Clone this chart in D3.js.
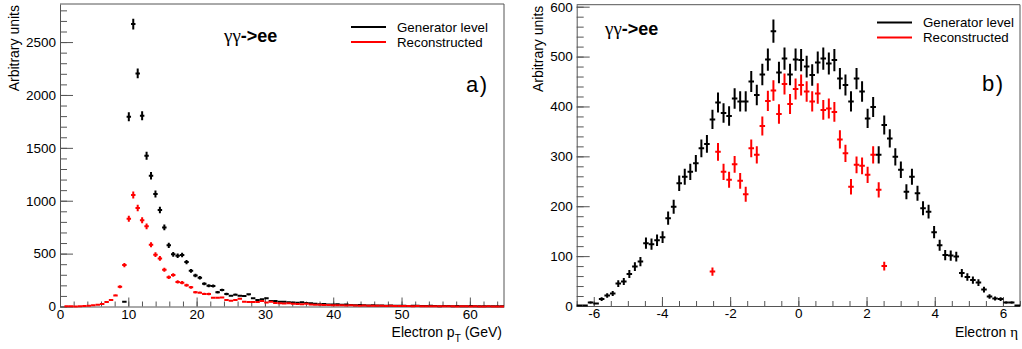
<!DOCTYPE html>
<html>
<head>
<meta charset="utf-8">
<script src="https://cdn.jsdelivr.net/npm/d3@7"></script>
<style>
  body { margin: 0; background: #fff; }
  svg { display: block; }
  text { font-family: "Liberation Sans", Arial, Helvetica, sans-serif; fill: #000; }
</style>
</head>
<body>
<svg id="chart" width="1022" height="349"></svg>
<script>
// electron pT histogram, 100 bins from 0 to 65 GeV
const ptRange = [0, 65];
const ptGen = [
  0, 0, 0, 0, 0, 0, 0, 0, 0, 0,
  0, 0, 0, 0, 45, 1794, 2670, 2204, 1803, 1425,
  1236, 1063, 912, 748, 578, 493, 480, 487, 420, 337,
  293, 272, 215, 197, 194, 134, 156, 118, 102, 112,
  102, 99, 115, 77, 61, 68, 77, 52, 52, 46,
  46, 40, 38, 36, 40, 32, 30, 26, 22, 24,
  20, 18, 22, 16, 18, 14, 12, 15, 11, 10,
  13, 9, 10, 8, 9, 7, 6, 8, 5, 6,
  7, 4, 5, 6, 4, 3, 5, 4, 3, 4,
  2, 3, 4, 2, 3, 2, 3, 2, 2, 3
];
const ptReco = [
  0, 2, 2, 1, 3, 5, 7, 11, 16, 24,
  42, 61, 105, 187, 392, 830, 1054, 931, 815, 758,
  584, 490, 455, 348, 276, 298, 232, 225, 202, 181,
  134, 131, 119, 118, 83, 83, 86, 61, 55, 61,
  74, 46, 43, 43, 43, 52, 39, 46, 32, 30,
  28, 31, 26, 24, 22, 25, 19, 16, 17, 14,
  15, 12, 13, 11, 10, 12, 9, 8, 10, 7,
  8, 6, 7, 5, 6, 5, 4, 5, 4, 3,
  4, 3, 3, 2, 3, 2, 2, 3, 2, 1,
  2, 2, 1, 2, 1, 1, 2, 1, 1, 1
];
const ptTicks = [0, 10, 20, 30, 40, 50, 60];
const ptCountTicks = [0, 500, 1000, 1500, 2000, 2500];

// electron eta histogram, 80 bins from -6.5 to 6.5
const etaRange = [-6.5, 6.5];
const etaGen = [
  1, 1, 7, 5, 14, 21, 25, 45, 49, 64,
  79, 89, 126, 124, 132, 138, 176, 199, 246, 259,
  269, 286, 316, 325, 374, 408, 387, 381, 416, 410,
  410, 450, 423, 464, 494, 551, 468, 496, 464, 494,
  493, 480, 463, 488, 496, 486, 493, 456, 443, 410,
  456, 430, 376, 399, 303, 363, 336, 299, 273, 229,
  259, 226, 196, 189, 148, 122, 102, 101, 99, 66,
  58, 52, 47, 33, 19, 15, 14, 7, 7, 1
];
const etaReco = [
  0, 0, 0, 0, 0, 0, 0, 0, 0, 0,
  0, 0, 0, 0, 0, 0, 0, 0, 0, 0,
  0, 0, 0, 0, 69, 309, 269, 253, 284, 251,
  224, 316, 303, 361, 411, 432, 385, 445, 405, 435,
  443, 430, 410, 426, 393, 396, 389, 334, 306, 239,
  283, 281, 263, 303, 233, 80, 0, 0, 0, 0,
  0, 0, 0, 0, 0, 0, 0, 0, 0, 0,
  0, 0, 0, 0, 0, 0, 0, 0, 0, 0
];
const etaTicks = [-6, -4, -2, 0, 2, 4, 6];
const etaCountTicks = [0, 100, 200, 300, 400, 500, 600];

const legendNames = ['Generator level', 'Reconstructed'];
const colors = ['#000000', '#ff0000'];

const svg = d3.select('#chart');
const axisColor = '#555';
// plain labels: no thousands separator, ascii hyphen for minus
const plain = d => String(d);

function drawHist(g, x, y, range, values, color) {
  const w = (range[1] - range[0]) / values.length;
  const bins = values
    .map((v, i) => ({ lo: range[0] + i * w, hi: range[0] + (i + 1) * w, v: v }))
    .filter(d => d.v > 0);
  g.selectAll(null).data(bins).enter().append('path')
    .attr('d', d => {
      const e = Math.sqrt(d.v);
      const xc = (x(d.lo) + x(d.hi)) / 2;
      return 'M' + x(d.lo) + ',' + y(d.v) + 'H' + x(d.hi) +
        'M' + xc + ',' + y(d.v + e) + 'V' + y(Math.max(0, d.v - e));
    })
    .attr('stroke', color)
    .attr('stroke-width', 2)
    .attr('fill', 'none');
}

function drawPanel(p) {
  const x = d3.scaleLinear().domain(p.xDomain).range([p.left, p.right]);
  const y = d3.scaleLinear().domain(p.yDomain).range([p.bottom, p.top]);
  const g = svg.append('g');

  // frame top / right
  g.append('path')
    .attr('d', 'M' + p.left + ',' + p.top + 'H' + p.right + 'V' + p.bottom)
    .attr('stroke', axisColor).attr('fill', 'none').attr('stroke-width', 1);

  // minor ticks
  g.append('g')
    .attr('transform', 'translate(0,' + p.bottom + ')')
    .call(d3.axisBottom(x).tickValues(p.xMinor).tickSize(-5).tickSizeOuter(0).tickFormat(''))
    .call(a => a.select('.domain').remove())
    .selectAll('line').attr('stroke', axisColor);
  g.append('g')
    .attr('transform', 'translate(' + p.left + ',0)')
    .call(d3.axisLeft(y).tickValues(p.yMinor).tickSize(-7).tickSizeOuter(0).tickFormat(''))
    .call(a => a.select('.domain').remove())
    .selectAll('line').attr('stroke', axisColor);

  // major ticks and labels
  const xa = g.append('g')
    .attr('transform', 'translate(0,' + p.bottom + ')')
    .call(d3.axisBottom(x).tickValues(p.xTicks).tickFormat(plain)
      .tickSize(-9).tickSizeOuter(0).tickPadding(2.5));
  const ya = g.append('g')
    .attr('transform', 'translate(' + p.left + ',0)')
    .call(d3.axisLeft(y).tickValues(p.yTicks).tickFormat(plain)
      .tickSize(-13).tickSizeOuter(0).tickPadding(4));
  [xa, ya].forEach(a => {
    a.select('.domain').attr('stroke', axisColor);
    a.selectAll('line').attr('stroke', axisColor);
    a.selectAll('text').attr('font-size', 13.5).attr('fill', '#000')
      .attr('font-family', '"Liberation Sans", Arial, sans-serif');
  });

  // histograms
  drawHist(g, x, y, p.xDomain, p.gen, colors[0]);
  drawHist(g, x, y, p.xDomain, p.reco, colors[1]);

  // axis titles
  const xt = g.append('text')
    .attr('x', p.right - 2).attr('y', 337)
    .attr('text-anchor', 'end').attr('font-size', 14);
  p.xTitle(xt);
  g.append('text')
    .attr('transform', 'translate(' + p.yTitleX + ',' + (p.top + 1) + ') rotate(-90)')
    .attr('text-anchor', 'end').attr('font-size', 14)
    .text('Arbitrary units');

  // process label
  const pl = g.append('text').attr('x', p.procX).attr('y', p.procY).attr('font-size', 18);
  pl.append('tspan').attr('font-family', '"Liberation Serif", serif').attr('font-size', 19).text('γγ');
  pl.append('tspan').attr('font-weight', 'bold').text('->ee');

  // panel tag
  g.append('text').attr('x', p.tagX).attr('y', p.tagY).attr('font-size', 22)
    .attr('letter-spacing', 1.5).text(p.tag);

  // legend
  legendNames.forEach((name, i) => {
    const ly = p.legY + i * 15;
    g.append('line')
      .attr('x1', p.legX).attr('x2', p.legX + 35)
      .attr('y1', ly).attr('y2', ly)
      .attr('stroke', colors[i]).attr('stroke-width', 2);
    g.append('text')
      .attr('x', p.legX + 46).attr('y', ly + 4.5)
      .attr('font-size', 13.3).text(name);
  });
}

drawPanel({
  left: 60, right: 504, top: 4, bottom: 306.5,
  xDomain: ptRange, yDomain: [0, 2860],
  xTicks: ptTicks, xMinor: d3.range(0, 65, 2),
  yTicks: ptCountTicks, yMinor: d3.range(0, 2860, 100),
  gen: ptGen, reco: ptReco,
  xTitle: t => {
    t.append('tspan').text('Electron p');
    t.append('tspan').attr('font-size', 10).attr('dy', 5).text('T');
    t.append('tspan').attr('dy', -5).text(' (GeV)');
  },
  yTitleX: 19,
  procX: 224, procY: 41.5,
  tagX: 466, tagY: 92, tag: 'a)',
  legX: 351, legY: 27
});

drawPanel({
  left: 576.7, right: 1020, top: 4.7, bottom: 306,
  xDomain: etaRange, yDomain: [0, 604],
  xTicks: etaTicks, xMinor: d3.range(-6.5, 6.51, 0.5),
  yTicks: etaCountTicks, yMinor: d3.range(0, 604, 20),
  gen: etaGen, reco: etaReco,
  xTitle: t => {
    t.append('tspan').text('Electron ');
    t.append('tspan').attr('font-family', '"Liberation Serif", serif').attr('font-size', 15).text('η');
  },
  yTitleX: 543,
  procX: 605, procY: 35,
  tagX: 982, tagY: 91, tag: 'b)',
  legX: 877, legY: 22.5
});
</script>
</body>
</html>
